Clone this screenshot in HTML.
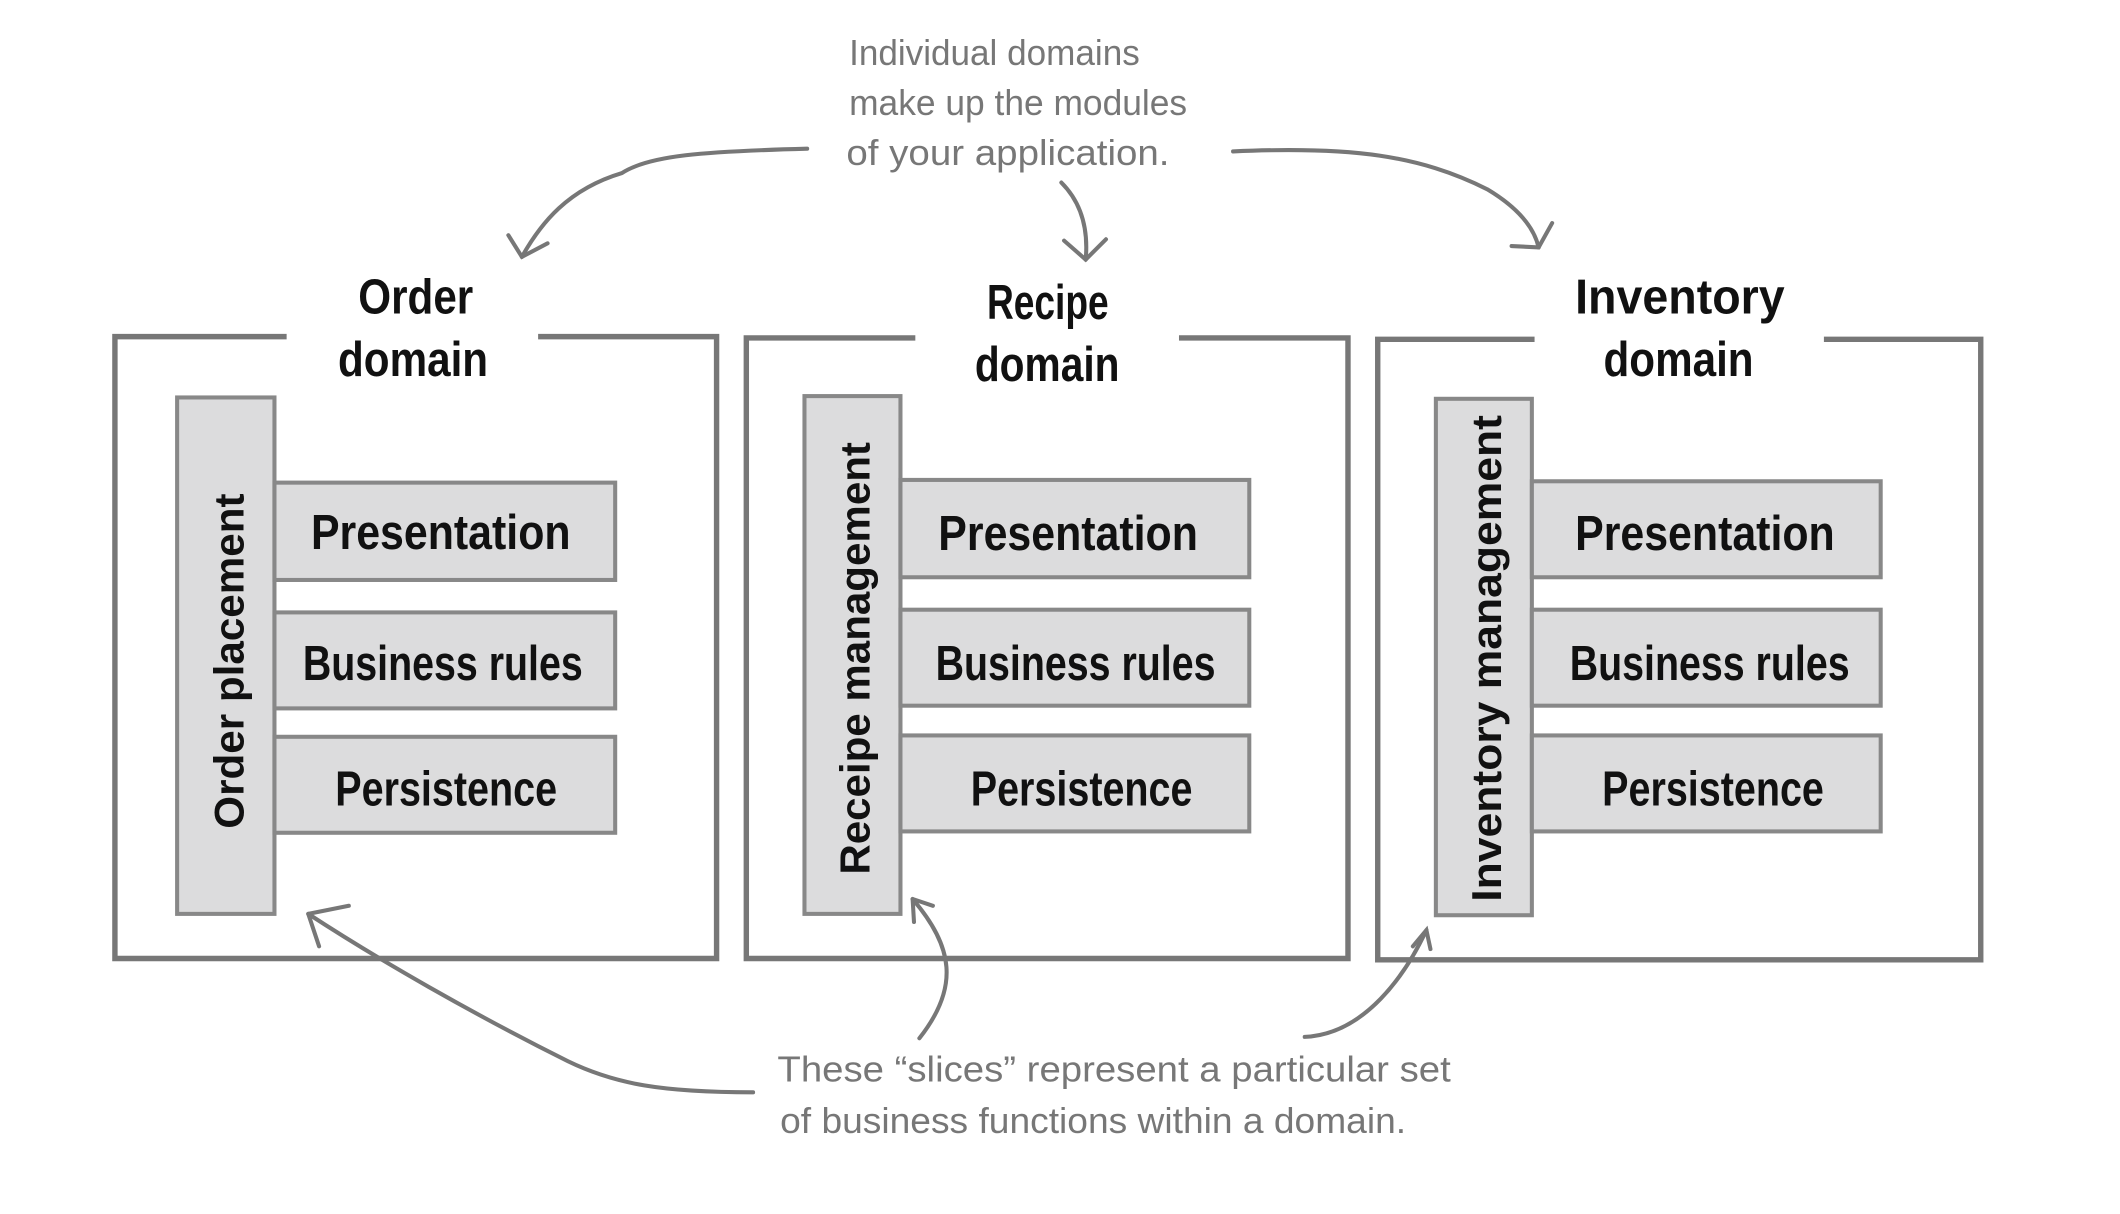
<!DOCTYPE html>
<html><head><meta charset="utf-8"><style>
html,body{margin:0;padding:0;background:#fff;}
svg{display:block;}
.t{font-family:"Liberation Sans Narrow","Liberation Sans",sans-serif;font-weight:bold;fill:#111;}
.v{font-family:"Liberation Sans",sans-serif;font-weight:bold;fill:#111;}
.a{font-family:"Liberation Sans Narrow","Liberation Sans",sans-serif;fill:#777;}
</style></head><body>
<svg width="2120" height="1214" viewBox="0 0 1568 898" preserveAspectRatio="none" xmlns="http://www.w3.org/2000/svg">
<g fill="none" stroke="#777" stroke-width="4">
<path d="M212,249 H85 V709 H530 V249 H398"/>
<path d="M677,250 H552 V709 H997 V250 H872"/>
<path d="M1135,251 H1019 V710 H1465 V251 H1349"/>
</g>
<g fill="#dcdcdd" stroke="#888" stroke-width="3">
<rect x="131" y="294" width="72" height="382"/>
<rect x="203" y="357" width="252" height="72"/>
<rect x="203" y="453" width="252" height="71"/>
<rect x="203" y="545" width="252" height="71"/>
<rect x="595" y="293" width="71" height="383"/>
<rect x="666" y="355" width="258" height="72"/>
<rect x="666" y="451" width="258" height="71"/>
<rect x="666" y="544" width="258" height="71"/>
<rect x="1062" y="295" width="71" height="382"/>
<rect x="1133" y="356" width="258" height="71"/>
<rect x="1133" y="451" width="258" height="71"/>
<rect x="1133" y="544" width="258" height="71"/>
</g>
<g class="t" font-size="36">
<text x="265" y="232" textLength="85" lengthAdjust="spacingAndGlyphs">Order</text>
<text x="250" y="278" textLength="111" lengthAdjust="spacingAndGlyphs">domain</text>
<text x="730" y="236" textLength="90" lengthAdjust="spacingAndGlyphs">Recipe</text>
<text x="721" y="282" textLength="107" lengthAdjust="spacingAndGlyphs">domain</text>
<text x="1165" y="232" textLength="155" lengthAdjust="spacingAndGlyphs">Inventory</text>
<text x="1186" y="278" textLength="111" lengthAdjust="spacingAndGlyphs">domain</text>
</g>
<g class="t" font-size="36">
<text x="230" y="406" textLength="192" lengthAdjust="spacingAndGlyphs">Presentation</text>
<text x="224" y="503" textLength="207" lengthAdjust="spacingAndGlyphs">Business rules</text>
<text x="248" y="596" textLength="164" lengthAdjust="spacingAndGlyphs">Persistence</text>
<text x="694" y="407" textLength="192" lengthAdjust="spacingAndGlyphs">Presentation</text>
<text x="692" y="503" textLength="207" lengthAdjust="spacingAndGlyphs">Business rules</text>
<text x="718" y="596" textLength="164" lengthAdjust="spacingAndGlyphs">Persistence</text>
<text x="1165" y="407" textLength="192" lengthAdjust="spacingAndGlyphs">Presentation</text>
<text x="1161" y="503" textLength="207" lengthAdjust="spacingAndGlyphs">Business rules</text>
<text x="1185" y="596" textLength="164" lengthAdjust="spacingAndGlyphs">Persistence</text>
</g>
<g class="v" font-size="31">
<text transform="translate(180,613) rotate(-90)" textLength="248" lengthAdjust="spacingAndGlyphs">Order placement</text>
<text transform="translate(643,647) rotate(-90)" textLength="320" lengthAdjust="spacingAndGlyphs">Receipe management</text>
<text transform="translate(1110,667) rotate(-90)" textLength="360" lengthAdjust="spacingAndGlyphs">Inventory management</text>
</g>
<g class="a" font-size="27">
<text x="628" y="48" textLength="215" lengthAdjust="spacingAndGlyphs">Individual domains</text>
<text x="628" y="85" textLength="250" lengthAdjust="spacingAndGlyphs">make up the modules</text>
<text x="626" y="122" textLength="239" lengthAdjust="spacingAndGlyphs">of your application.</text>
<text x="575" y="800" textLength="498" lengthAdjust="spacingAndGlyphs">These “slices” represent a particular set</text>
<text x="577" y="838" textLength="463" lengthAdjust="spacingAndGlyphs">of business functions within a domain.</text>
</g>
<g fill="none" stroke="#777" stroke-width="3" stroke-linecap="round">
<path d="M597,110 C520,112 480,115 460,128 C420,140 400,165 386,190"/>
<path d="M376,174 L386,190 L405,180"/>
<path d="M785,135 C800,150 805,170 803,192"/>
<path d="M787,178 L803,192 L818,177"/>
<path d="M912,112 C1000,108 1050,115 1100,140 C1125,155 1135,170 1138,183"/>
<path d="M1118,182 L1138,183 L1148,165"/>
<path d="M557,808 C490,808 455,802 420,785 C350,750 280,710 228,676"/>
<path d="M228,676 L258,670 M228,676 L236,700"/>
<path d="M680,768 C710,730 705,700 675,665"/>
<path d="M675,665 L690,670 M675,665 L676,682"/>
<path d="M965,767 C1010,765 1040,720 1055,688"/>
<path d="M1045,700 L1055,688 L1058,702"/>
</g>
</svg>
</body></html>
